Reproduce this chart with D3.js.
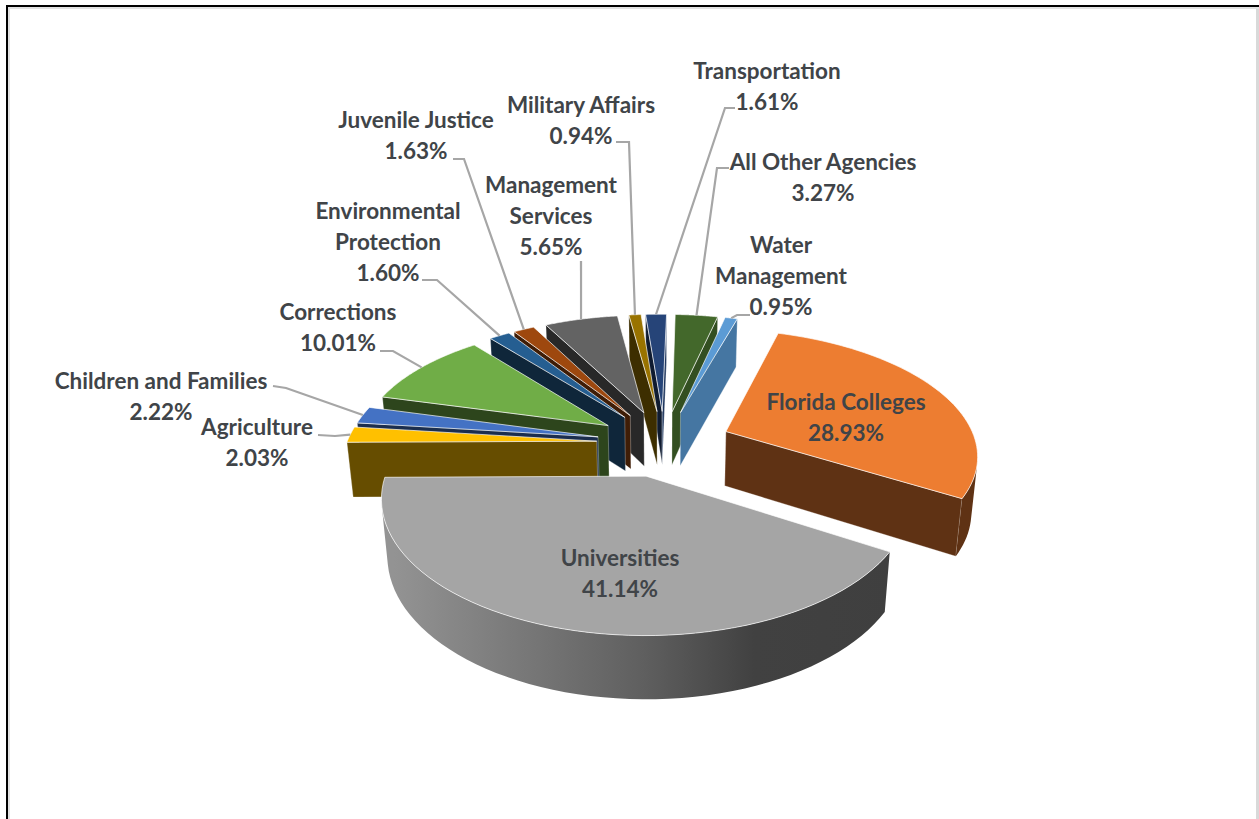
<!DOCTYPE html>
<html>
<head>
<meta charset="utf-8">
<script src="https://cdn.jsdelivr.net/npm/d3@7"></script>
<style>
  html, body { margin: 0; padding: 0; background: #fff; overflow: hidden; }
  text { font-family: Lato, "Open Sans", sans-serif; font-weight: 700; fill: #404448; }
</style>
</head>
<body>
<div id="chart"></div>
<script>
// data
let categories = ["Agriculture", "Children and Families", "Corrections", "Environmental Protection",
    "Juvenile Justice", "Management Services", "Military Affairs", "Transportation",
    "All Other Agencies", "Water Management", "Florida Colleges", "Universities"];
let shares = [2.03, 2.22, 10.01, 1.60, 1.63, 5.65, 0.94, 1.61, 3.27, 0.95, 28.93, 41.14];
let colors = ["#FFC000", "#4472C4", "#70AD47", "#255E91", "#9E480E", "#636363",
    "#997300", "#264478", "#43682B", "#5B9BD5", "#ED7D31", "#A5A5A5"];

// label placement: lines, centre x, first line y, and the leader elbow if there is one
let labelLines = [["Agriculture", "2.03%"], ["Children and Families", "2.22%"], ["Corrections", "10.01%"],
    ["Environmental", "Protection", "1.60%"], ["Juvenile Justice", "1.63%"], ["Management", "Services", "5.65%"],
    ["Military Affairs", "0.94%"], ["Transportation", "1.61%"], ["All Other Agencies", "3.27%"],
    ["Water", "Management", "0.95%"], ["Florida Colleges", "28.93%"], ["Universities", "41.14%"]];
let labelX = [257, 161, 338, 388, 416, 551, 581, 767, 823, 781, 846, 620];
let labelY = [427, 381, 312, 211, 120, 185, 105, 71, 162, 245, 402, 558];
let leaderStart = [[318, 435], [273, 386], [380, 351], [422, 280], [453, 159], [581, 261], [616, 142], [735, 108], [729, 168], [750, 315], null, null];
let leaderElbow = [[335, 436], [286, 388], [393, 351], [437, 280], [464, 159], null, [629, 142], [725, 108], [717, 168], [737, 315], null, null];

const WIDTH = 1259, HEIGHT = 819;

// 3d pie set up
const CX = 664, CY = 443;     // centre of the pie on screen
const RADIUS = 250;           // horizontal radius
const SQUASH = 122;           // vertical radius
const THICK = 56;             // height of the pie
const PERSP = 0.16;           // how much nearer slices grow
const PERSP_DOWN = 0.02;      // how much the bottom face shrinks
const SKEW = 3;               // viewpoint sits a bit off centre
const EXPLODE = 0.27;         // explosion as part of the radius
const START = 269.5 * Math.PI / 180;

let svg = d3.select("#chart")
    .append("svg")
    .attr("width", WIDTH)
    .attr("height", HEIGHT);

// frame
svg.append("rect").attr("x", 9).attr("y", 8).attr("width", WIDTH).attr("height", HEIGHT)
    .attr("fill", "none").attr("stroke", "#e2e2e2").attr("stroke-width", 2);
svg.append("rect").attr("x", 1256).attr("y", 9).attr("width", 3).attr("height", HEIGHT)
    .attr("fill", "#d9d9d9");
svg.append("rect").attr("x", 7).attr("y", 6).attr("width", WIDTH).attr("height", HEIGHT)
    .attr("fill", "none").attr("stroke", "#000").attr("stroke-width", 2);

let defs = svg.append("defs");
let grad = defs.append("linearGradient")
    .attr("id", "rimGrad")
    .attr("gradientUnits", "userSpaceOnUse")
    .attr("x1", CX - RADIUS - 20).attr("x2", CX + RADIUS - 20).attr("y1", 0).attr("y2", 0);
grad.append("stop").attr("offset", 0).attr("stop-color", "#939393");
grad.append("stop").attr("offset", 0.5).attr("stop-color", "#5f5f5f");
grad.append("stop").attr("offset", 0.72).attr("stop-color", "#414141");
grad.append("stop").attr("offset", 1).attr("stop-color", "#3f3f3f");

let pie = d3.pie().sort(null).startAngle(START).endAngle(START + 2 * Math.PI);
let slices = pie(shares);
let line = d3.line();

// angle, radius part and depth (0 top, 1 bottom) of a slice to screen
function project(d, angle, r, depth) {
    let mid = (d.startAngle + d.endAngle) / 2;
    let u = EXPLODE * Math.sin(mid) + r * Math.sin(angle);
    let v = -EXPLODE * Math.cos(mid) - r * Math.cos(angle);
    let s = 1 / (1 - PERSP * v + PERSP_DOWN * depth);
    return [CX + RADIUS * u * s + SKEW * v, CY + (SQUASH * v + THICK * depth) * s];
}

function arcPoints(d, depth) {
    return d3.range(0, 61).map(i => {
        let t = d.startAngle + (d.endAngle - d.startAngle) * i / 60;
        return project(d, t, 1, depth);
    });
}

function darken(c, k) {
    let rgb = d3.rgb(c);
    return d3.rgb(rgb.r * k, rgb.g * k, rgb.b * k).formatHex();
}

// back slices first so the front ones paint over them
let order = d3.range(slices.length).sort((a, b) => {
    let pa = project(slices[a], 0, 0, 0), pb = project(slices[b], 0, 0, 0);
    return pa[1] - pb[1];
});

order.forEach(i => {
    let d = slices[i];
    let g = svg.append("g").attr("class", "slice");
    let apexTop = project(d, 0, 0, 0), apexBottom = project(d, 0, 0, 1);
    let top = arcPoints(d, 0), bottom = arcPoints(d, 1);

    // cut faces, polygonArea is positive when the face looks at the viewer
    let startWall = [apexTop, top[0], bottom[0], apexBottom];
    let endWall = [apexTop, apexBottom, bottom[60], top[60]];
    [[startWall, -Math.cos(d.startAngle)], [endWall, Math.cos(d.endAngle)]].forEach(w => {
        if (d3.polygonArea(w[0]) < 0) return;
        g.append("path")
            .attr("d", line(w[0]) + "Z")
            .attr("fill", darken(colors[i], w[1] > 0.5 ? 0.76 : 0.4))
            .attr("stroke", "#fff").attr("stroke-opacity", 0.5).attr("stroke-width", 0.6);
    });

    // rim, only the part turned to the viewer
    let rim = d3.range(0, 60).filter(k => d3.polygonArea([top[k], top[k + 1], bottom[k + 1], bottom[k]]) > 0);
    if (rim.length > 0) {
        let a = rim[0], b = rim[rim.length - 1] + 1;
        let poly = top.slice(a, b + 1).concat(bottom.slice(a, b + 1).reverse());
        g.append("path")
            .attr("d", line(poly) + "Z")
            .attr("fill", categories[i] == "Universities" ? "url(#rimGrad)" : darken(colors[i], 0.4));
    }

    // top face
    g.append("path")
        .attr("d", line([apexTop].concat(top)) + "Z")
        .attr("fill", colors[i])
        .attr("stroke", "#fff").attr("stroke-opacity", 0.75).attr("stroke-width", 0.9);
});

// leader lines run from the label to the middle of the slice's rim
slices.forEach((d, i) => {
    if (!leaderStart[i]) return;
    let mid = (d.startAngle + d.endAngle) / 2;
    let pts = [leaderStart[i]];
    if (leaderElbow[i]) pts.push(leaderElbow[i]);
    pts.push(project(d, mid, 1, 0));
    svg.append("path")
        .attr("d", line(pts))
        .attr("fill", "none")
        .attr("stroke", "#a6a6a6")
        .attr("stroke-width", 2.2);
});

// labels
labelLines.forEach((lines, i) => {
    lines.forEach((txt, j) => {
        svg.append("text")
            .attr("x", labelX[i])
            .attr("y", labelY[i] + j * 31)
            .attr("dy", "0.35em")
            .attr("text-anchor", "middle")
            .style("font-size", "22.5px")
            .text(txt);
    });
});
</script>
</body>
</html>
